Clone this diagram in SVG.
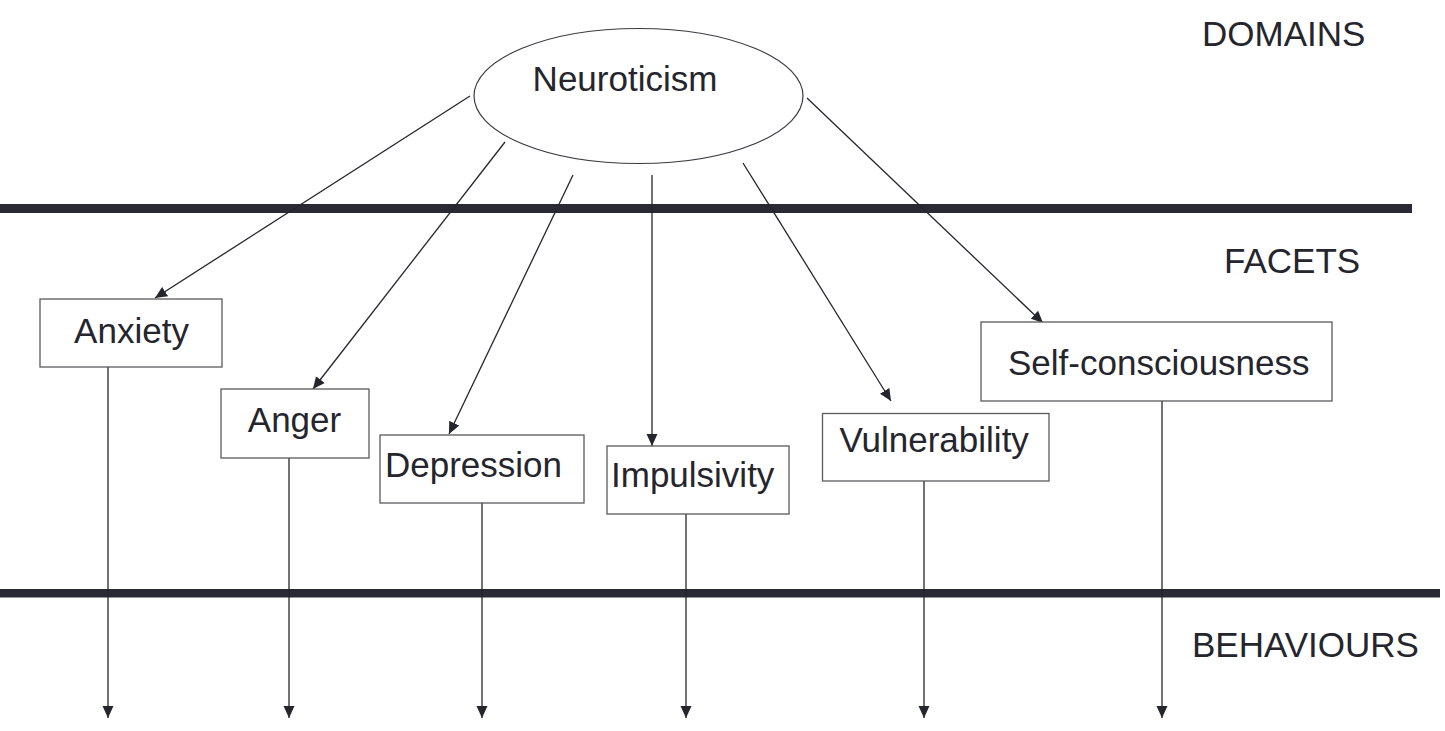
<svg xmlns="http://www.w3.org/2000/svg" width="1445" height="731" viewBox="0 0 1445 731">
<style>
  text { font-family: "Liberation Sans", Arial, sans-serif; font-size: 35px; fill: #25252d; }
  .box { fill: #ffffff; stroke: #5a5a5f; stroke-width: 1.3; }
  .conn { stroke: #25252d; stroke-width: 1.3; fill: none; marker-end: url(#arrow); }
  .band { fill: #2a2a35; }
</style>
<defs>
  <marker id="arrow" markerUnits="userSpaceOnUse" markerWidth="12" markerHeight="12" viewBox="0 0 12 12" refX="12" refY="6" orient="auto">
    <path d="M0,0.5 L12,6 L0,11.5 z" fill="#25252d"/>
  </marker>
</defs>
<rect width="1445" height="731" fill="#ffffff"/>

<g id="bands">
  <rect class="band" x="0" y="204" width="1412" height="9"/>
  <rect class="band" x="0" y="589" width="1440" height="8.5"/>
</g>

<g id="level-labels">
  <text x="1202" y="46">DOMAINS</text>
  <text x="1224" y="273">FACETS</text>
  <text x="1192" y="657">BEHAVIOURS</text>
</g>

<g id="connectors">
  <line class="conn" x1="470" y1="96" x2="155" y2="298"/>
  <line class="conn" x1="505" y1="142" x2="313" y2="389"/>
  <line class="conn" x1="573" y1="175" x2="449" y2="434"/>
  <line class="conn" x1="652" y1="175" x2="652" y2="446"/>
  <line class="conn" x1="743" y1="163" x2="891" y2="401"/>
  <line class="conn" x1="807" y1="98" x2="1043" y2="323"/>
  <line class="conn" x1="108" y1="367" x2="108" y2="718"/>
  <line class="conn" x1="289" y1="458" x2="289" y2="718"/>
  <line class="conn" x1="482" y1="503" x2="482" y2="718"/>
  <line class="conn" x1="686" y1="514" x2="686" y2="718"/>
  <line class="conn" x1="924" y1="481" x2="924" y2="718"/>
  <line class="conn" x1="1162" y1="401" x2="1162" y2="718"/>
</g>

<g id="neuroticism">
  <ellipse cx="638.5" cy="96" rx="164.5" ry="67.5" fill="#ffffff" stroke="#3a3a40" stroke-width="1.2"/>
  <text x="625" y="91" text-anchor="middle">Neuroticism</text>
</g>

<g id="anxiety">
  <rect class="box" x="40" y="299" width="182" height="68"/>
  <text x="131.5" y="343" text-anchor="middle">Anxiety</text>
</g>

<g id="anger">
  <rect class="box" x="221" y="389" width="148" height="69"/>
  <text x="294.5" y="432" text-anchor="middle">Anger</text>
</g>

<g id="depression">
  <rect class="box" x="380" y="435" width="204" height="68"/>
  <text x="385" y="477">Depression</text>
</g>

<g id="impulsivity">
  <rect class="box" x="607" y="446" width="182" height="68"/>
  <text x="611" y="487">Impulsivity</text>
</g>

<g id="vulnerability">
  <rect class="box" x="822.5" y="413.5" width="226.5" height="67.5"/>
  <text x="839.5" y="451.5">Vulnerability</text>
</g>

<g id="self-consciousness">
  <rect class="box" x="981" y="322" width="351" height="79"/>
  <text x="1008" y="375">Self-consciousness</text>
</g>
</svg>
